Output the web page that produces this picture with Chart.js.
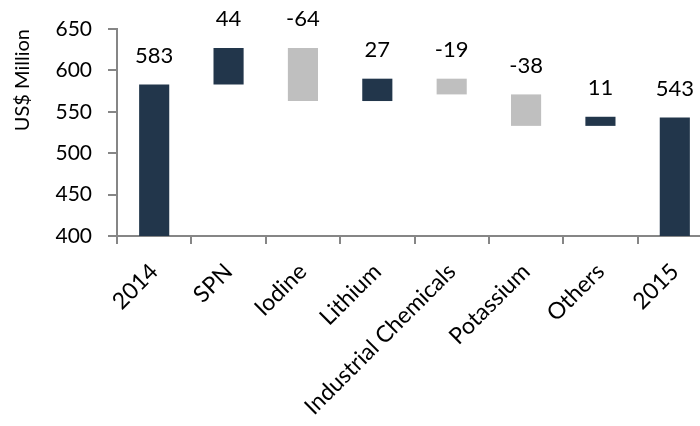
<html>
<head>
<meta charset="utf-8" />
<title>Waterfall 2014-2015</title>
<style>
  body { margin: 0; overflow: hidden; background: #fff; }
  #wrap { width: 712px; height: 426px; }
</style>
</head>
<body>
<div id="wrap"><canvas id="wf_chart"></canvas></div>

<script src="https://cdn.jsdelivr.net/npm/chart.js"></script>
<script>

categories = ['2014', 'SPN', 'Iodine', 'Lithium', 'Industrial Chemicals', 'Potassium', 'Others', '2015'];
changes = [583, 44, -64, 27, -19, -38, 11, 543];
isTotal = [true, false, false, false, false, false, false, true];
yTicks = [400, 450, 500, 550, 600, 650];

var dark = '#22364B';
var grey = '#BFBFBF';
var axisGrey = '#868686';
var fontFam = 'Lato, "Open Sans", sans-serif';

// floating bars: totals from the axis floor, steps from the running total
var running = 0;
var bars = changes.map(function (v, i) {
  if (isTotal[i]) { running = v; return v; }
  var start = running;
  running += v;
  return [start, running];
});
var colors = changes.map(function (v, i) {
  return (isTotal[i] || v > 0) ? dark : grey;
});

var valueLabels = {
  id: 'valueLabels',
  afterDatasetsDraw: function (chart) {
    var ctx = chart.ctx;
    var meta = chart.getDatasetMeta(0);
    ctx.save();
    ctx.font = '22px ' + fontFam;
    ctx.fillStyle = '#000';
    ctx.textAlign = 'center';
    ctx.textBaseline = 'bottom';
    meta.data.forEach(function (bar, i) {
      var top = Math.min(bar.y, bar.base);
      ctx.fillText(String(changes[i]), bar.x, top - 18);
    });
    ctx.restore();
  }
};

var ctx = document.getElementById('wf_chart');
var wf_chart = new Chart(ctx, {
  type: 'bar',
  data: {
    labels: categories,
    datasets: [{
      data: bars,
      backgroundColor: colors,
      barPercentage: 0.405,
      categoryPercentage: 1.0
    }]
  },
  options: {
    responsive: true,
    maintainAspectRatio: false,
    animation: false,
    layout: { padding: { top: 29, right: 0, bottom: 0, left: 0 } },
    plugins: {
      legend: { display: false },
      tooltip: { enabled: false }
    },
    scales: {
      x: {
        grid: { drawOnChartArea: false, tickLength: 8, color: axisGrey, lineWidth: 2 },
        border: { color: axisGrey, width: 2 },
        ticks: {
          color: '#000',
          font: { family: fontFam, size: 23 },
          minRotation: 45, maxRotation: 45,
          autoSkip: false,
          padding: 14
        },
        afterFit: function (scale) { scale.height = 190; }
      },
      y: {
        min: yTicks[0],
        max: yTicks[yTicks.length - 1],
        afterBuildTicks: function (scale) {
          scale.ticks = yTicks.map(function (v) { return { value: v }; });
        },
        grid: { drawOnChartArea: false, tickLength: 9, color: axisGrey, lineWidth: 2 },
        border: { color: axisGrey, width: 2 },
        ticks: {
          color: '#000',
          font: { family: fontFam, size: 21 },
          padding: 16
        },
        title: {
          display: true,
          text: 'US$ Million',
          align: 'end',
          color: '#000',
          font: { family: fontFam, size: 20 },
          padding: { top: 11, bottom: 4 }
        },
        afterFit: function (scale) { scale.width = 117; }
      }
    }
  },
  plugins: [valueLabels]
});

</script>
</body>
</html>
